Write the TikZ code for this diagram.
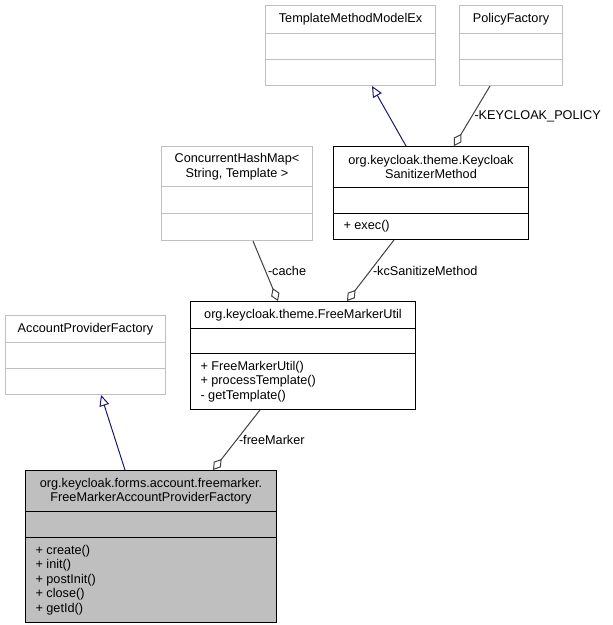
\documentclass[tikz,border=0pt]{standalone}
\usepackage{fontspec}
\setmainfont{Liberation Sans}
\usetikzlibrary{shapes.multipart,arrows.meta}
\definecolor{edgegrey}{HTML}{404040}
\definecolor{boxgrey}{HTML}{BFBFBF}
\definecolor{midblue}{HTML}{191970}
\newcommand{\ctitle}[3]{\parbox[c][#2][c]{#1}{\centering #3}}
\newcommand{\cbody}[3]{\parbox[c][#2][c]{#1}{\raggedright\leftskip=10pt #3}}
\begin{document}
\begin{tikzpicture}[x=1pt, y=1pt,
  font=\fontsize{12.7}{14.5}\selectfont,
  umlclass/.style={rectangle split, rectangle split parts=3, draw=black, line width=1pt, inner sep=0pt, anchor=north west},
  extclass/.style={umlclass, draw=boxgrey},
  inherit/.style={draw=midblue, line width=1pt, -{Triangle[open, length=11pt, width=10pt]}},
  aggr/.style={draw=edgegrey, line width=1pt, {Diamond[open, length=14pt, width=9pt]}-},
  lbl/.style={right, inner sep=2pt}]
\useasboundingbox (0,0) rectangle (613,-625);

\node[extclass] (tmme) at (265,-5) {\ctitle{170pt}{27pt}{TemplateMethodModelEx}\nodepart{two}\cbody{170pt}{25pt}{}\nodepart{three}\cbody{170pt}{25pt}{}};
\node[extclass] (policy) at (459,-5) {\ctitle{103pt}{27pt}{PolicyFactory}\nodepart{two}\cbody{103pt}{25pt}{}\nodepart{three}\cbody{103pt}{25pt}{}};
\node[umlclass] (ksm) at (333,-146) {\ctitle{195pt}{40pt}{org.keycloak.theme.Keycloak\\SanitizerMethod}\nodepart{two}\cbody{195pt}{25pt}{}\nodepart{three}\cbody{195pt}{25pt}{+ exec()}};
\node[extclass] (chm) at (161,-146) {\ctitle{151pt}{39pt}{ConcurrentHashMap<\\ String, Template >}\nodepart{two}\cbody{151pt}{26pt}{}\nodepart{three}\cbody{151pt}{26pt}{}};
\node[umlclass] (fmu) at (190,-301) {\ctitle{225pt}{26pt}{org.keycloak.theme.FreeMarkerUtil}\nodepart{two}\cbody{225pt}{24pt}{}\nodepart{three}\cbody{225pt}{55pt}{+ FreeMarkerUtil()\\+ processTemplate()\\- getTemplate()}};
\node[extclass] (apf) at (5,-315) {\ctitle{160pt}{26pt}{AccountProviderFactory}\nodepart{two}\cbody{160pt}{25pt}{}\nodepart{three}\cbody{160pt}{25pt}{}};
\node[umlclass, fill=boxgrey] (fmapf) at (25,-470) {\ctitle{251pt}{40pt}{org.keycloak.forms.account.freemarker.\\FreeMarkerAccountProviderFactory}\nodepart{two}\cbody{251pt}{25pt}{}\nodepart{three}\cbody{251pt}{84pt}{+ create()\\+ init()\\+ postInit()\\+ close()\\+ getId()}};

\draw[inherit] ([xshift=100pt]fmapf.north west) -- ([xshift=96pt]apf.south west);
\draw[aggr] ([xshift=188pt]fmapf.north west) -- ([xshift=70pt]fmu.south west) node[lbl, midway] {-freeMarker};
\draw[aggr] ([xshift=88pt]fmu.north west) -- ([xshift=92pt]chm.south west) node[lbl, midway] {-cache};
\draw[aggr] ([xshift=157pt]fmu.north west) -- ([xshift=61pt]ksm.south west) node[lbl, midway] {-kcSanitizeMethod};
\draw[inherit] ([xshift=73pt]ksm.north west) -- ([xshift=107pt]tmme.south west);
\draw[aggr] ([xshift=121pt]ksm.north west) -- ([xshift=31pt]policy.south west) node[lbl, midway] {-KEYCLOAK\_POLICY};
\end{tikzpicture}
\end{document}
